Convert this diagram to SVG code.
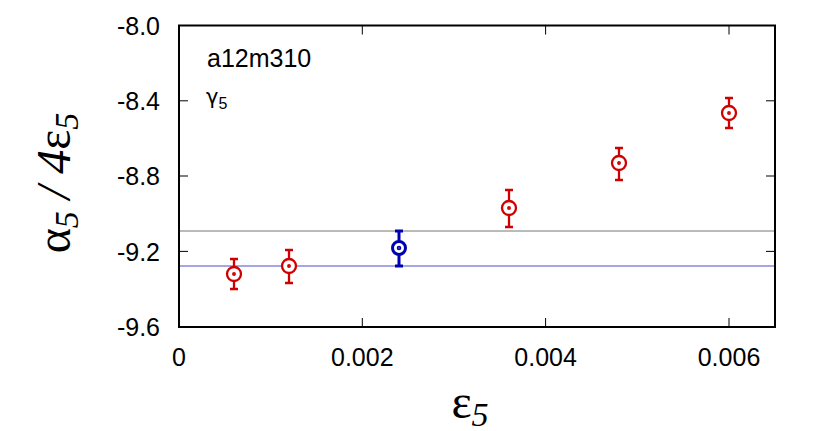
<svg xmlns="http://www.w3.org/2000/svg" width="822" height="431" viewBox="0 0 822 431">
<style>
text{font-family:"Liberation Sans",Arial,sans-serif;font-size:25px;fill:#000}
.tk{stroke:#000;stroke-width:1}
.r{stroke:#d00000;stroke-width:2.3;fill:none}
.b{stroke:#0000b0;stroke-width:3;fill:none}
.g{font-family:"Liberation Serif","DejaVu Serif",serif;font-size:48px}
.i{font-style:italic}
</style>
<rect width="822" height="431" fill="#fff"/>
<g id="lines">
<line x1="179" y1="231" x2="775" y2="231" stroke="#777" stroke-width="1"/>
<line x1="179" y1="266" x2="775" y2="266" stroke="#8888dd" stroke-width="1.5"/>
</g>
<g id="frame">
<rect x="179" y="25.5" width="596" height="301.5" fill="none" stroke="#000" stroke-width="2"/>
<path class="tk" d="M179 100.8h9M179 176h9M179 251.4h9M766 100.8h9M766 176h9M766 251.4h9M362.3 327v-9M545.6 327v-9M729 327v-9M362.3 25.5v9M545.6 25.5v9M729 25.5v9"/>
</g>
<g id="yticks" text-anchor="end">
<text x="160" y="35">-8.0</text>
<text x="160" y="110">-8.4</text>
<text x="160" y="185">-8.8</text>
<text x="160" y="261">-9.2</text>
<text x="160" y="336">-9.6</text>
</g>
<g id="xticks" text-anchor="middle">
<text x="179" y="366">0</text>
<text x="362.3" y="366">0.002</text>
<text x="545.6" y="366">0.004</text>
<text x="729" y="366">0.006</text>
</g>
<g id="labels">
<text x="207" y="67" font-size="23">a12m310</text>
<text x="206" y="104" style="font-family:'DejaVu Sans',sans-serif;font-size:21px">γ<tspan style="font-family:'Liberation Sans',sans-serif;font-size:16px" dy="5">5</tspan></text>
<text class="g" x="470" y="418" text-anchor="middle">ε<tspan class="i" style="font-size:34px" dy="8">5</tspan></text>
<text class="g" transform="translate(70,183) rotate(-90)" text-anchor="middle">α<tspan class="i" style="font-size:34px" dy="8">5</tspan><tspan class="i" dy="-8"> / 4</tspan>ε<tspan class="i" style="font-size:34px" dy="8">5</tspan></text>
</g>
<g id="points">
<g class="r"><path d="M234 259v30M230 259h8M230 289h8"/><circle cx="234" cy="274" r="7" fill="#fff"/><circle cx="234" cy="274" r="0.8" fill="#d00000"/></g>
<g class="r"><path d="M289 250v33M285 250h8M285 283h8"/><circle cx="289" cy="266" r="7" fill="#fff"/><circle cx="289" cy="266" r="0.8" fill="#d00000"/></g>
<g class="b"><path d="M399 231v35M395 231h8M395 266h8"/><circle cx="399" cy="248" r="6.5" fill="#fff"/><circle cx="399" cy="248" r="0.8" fill="#0000b0"/></g>
<g class="r"><path d="M509 190v37M505 190h8M505 227h8"/><circle cx="509" cy="208" r="7" fill="#fff"/><circle cx="509" cy="208" r="0.8" fill="#d00000"/></g>
<g class="r"><path d="M619 148v32M615 148h8M615 180h8"/><circle cx="619" cy="163" r="7" fill="#fff"/><circle cx="619" cy="163" r="0.8" fill="#d00000"/></g>
<g class="r"><path d="M729 98v30M725 98h8M725 128h8"/><circle cx="729" cy="113" r="7" fill="#fff"/><circle cx="729" cy="113" r="0.8" fill="#d00000"/></g>
</g>
</svg>
